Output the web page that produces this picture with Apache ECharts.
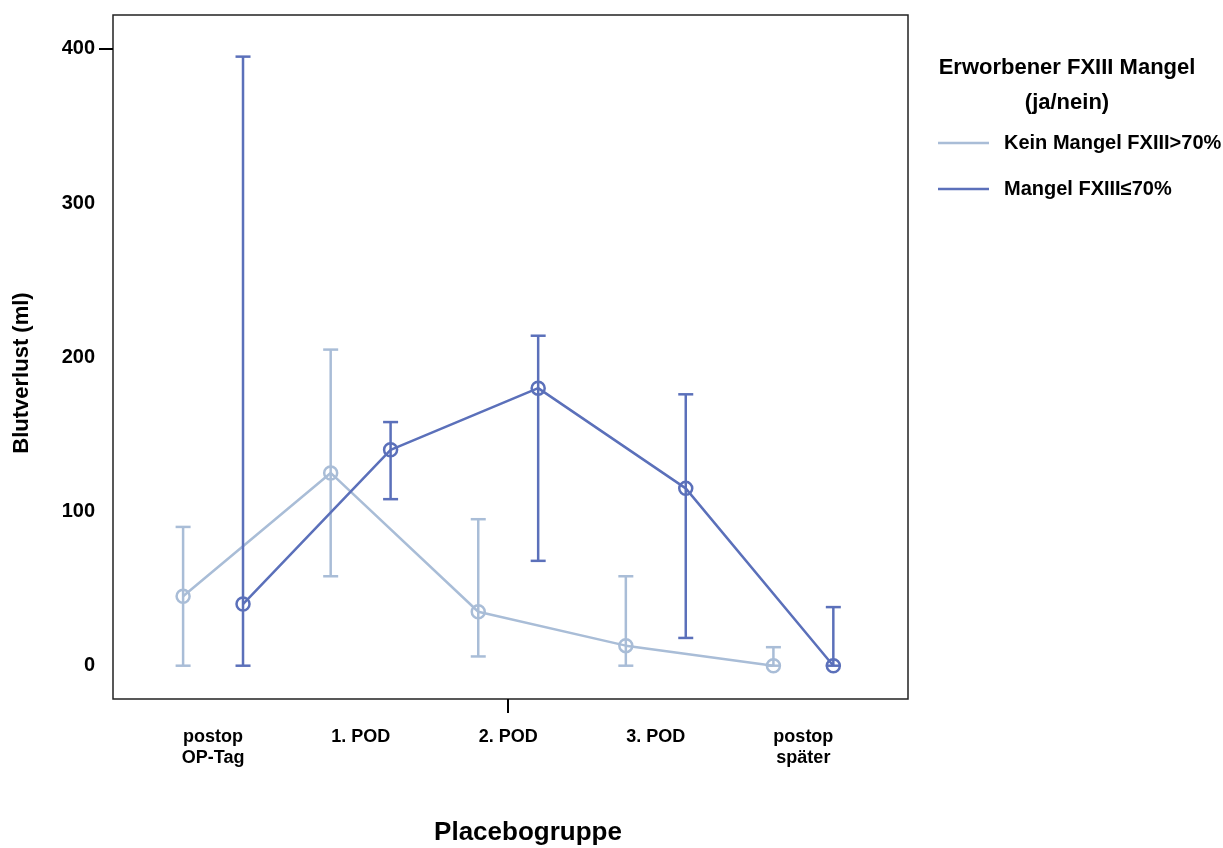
<!DOCTYPE html>
<html>
<head>
<meta charset="utf-8">
<script src="https://cdn.jsdelivr.net/npm/echarts@6/dist/echarts.min.js"></script>
<style>
  html, body { margin: 0; padding: 0; background: #fff; }
  #main { width: 1223px; height: 848px; }
</style>
</head>
<body>
<div id="main"></div>
<script>
var categories = ['postop\nOP-Tag', '1. POD', '2. POD', '3. POD', 'postop\nspäter'];
var yTicks = [0, 100, 200, 300, 400];

// Kein Mangel FXIII>70%
var keinMean = [45, 125, 35, 13, 0];
var keinLow = [0, 58, 6, 0, 0];
var keinHigh = [90, 205, 95, 58, 12];

// Mangel FXIII<=70%
var mangelMean = [40, 140, 180, 115, 0];
var mangelLow = [0, 108, 68, 18, 0];
var mangelHigh = [395, 158, 214, 176, 38];

var lightColor = '#a9bdd7';
var darkColor = '#5b70ba';
var font = 'Liberation Sans, Arial, sans-serif';
var shift = 0.203;

function points(means, off) {
  return means.map(function (v, i) { return [i + off, v]; });
}
function bars(low, high, off) {
  return low.map(function (v, i) { return [i + off, v, high[i]]; });
}

function errorBar(params, api) {
  var x = api.value(0);
  var top = api.coord([x, api.value(2)]);
  var bot = api.coord([x, api.value(1)]);
  var hw = 7.5;
  var style = { stroke: api.visual('color'), lineWidth: 2.5 };
  return {
    type: 'group',
    children: [
      { type: 'line', shape: { x1: top[0], y1: top[1], x2: bot[0], y2: bot[1] }, style: style },
      { type: 'line', shape: { x1: top[0] - hw, y1: top[1], x2: top[0] + hw, y2: top[1] }, style: style },
      { type: 'line', shape: { x1: bot[0] - hw, y1: bot[1], x2: bot[0] + hw, y2: bot[1] }, style: style }
    ]
  };
}

var chart = echarts.init(document.getElementById('main'));

var option = {
  animation: false,
  textStyle: { fontFamily: font },
  title: {
    text: 'Erworbener FXIII Mangel\n(ja/nein)',
    left: 1062,
    top: 45,
    textAlign: 'center',
    textStyle: { fontFamily: font, fontSize: 22, fontWeight: 'bold', color: '#000', lineHeight: 35 }
  },
  legend: {
    orient: 'vertical',
    left: 933,
    top: 128,
    itemWidth: 51,
    itemHeight: 2.5,
    itemGap: 26,
    textStyle: { fontFamily: font, fontSize: 20, fontWeight: 'bold', color: '#000', padding: [0, 0, 0, 10] },
    data: [
      { name: 'Kein Mangel FXIII>70%', icon: 'rect', itemStyle: { color: lightColor, borderWidth: 0 } },
      { name: 'Mangel FXIII≤70%', icon: 'rect', itemStyle: { color: darkColor, borderWidth: 0 } }
    ]
  },
  grid: {
    left: 113,
    top: 15,
    right: 315,
    bottom: 149,
    containLabel: false,
    outerBoundsMode: 'none',
    show: true,
    borderColor: '#222',
    borderWidth: 1.5,
    backgroundColor: 'transparent'
  },
  xAxis: {
    type: 'value',
    min: -0.678,
    max: 4.709,
    name: 'Placebogruppe',
    nameLocation: 'middle',
    nameGap: 121,
    nameTextStyle: { fontFamily: font, fontSize: 26, fontWeight: 'bold', color: '#000', padding: [0, 0, 0, 35] },
    axisLine: { show: false, onZero: false },
    splitLine: { show: false },
    axisTick: { show: true, customValues: [2], length: 14, lineStyle: { color: '#000', width: 2 } },
    axisLabel: {
      customValues: [0, 1, 2, 3, 4],
      formatter: function (v) { return categories[Math.round(v)]; },
      margin: 28,
      lineHeight: 21,
      fontFamily: font,
      fontSize: 18,
      fontWeight: 'bold',
      color: '#000'
    }
  },
  yAxis: {
    type: 'value',
    min: -21.6,
    max: 422,
    name: 'Blutverlust (ml)',
    nameLocation: 'middle',
    nameRotate: 90,
    nameGap: 80,
    nameTextStyle: { fontFamily: font, fontSize: 22, fontWeight: 'bold', color: '#000', padding: [0, 32, 0, 0] },
    axisLine: { show: false, onZero: false },
    splitLine: { show: false },
    axisTick: { show: true, customValues: [400], length: 14, lineStyle: { color: '#000', width: 2 } },
    axisLabel: {
      customValues: yTicks,
      margin: 18,
      padding: [4, 0, 0, 0],
      fontFamily: font,
      fontSize: 20,
      fontWeight: 'bold',
      color: '#000'
    }
  },
  series: [
    {
      name: 'Kein Mangel FXIII>70%',
      type: 'custom',
      renderItem: errorBar,
      itemStyle: { color: lightColor },
      encode: { x: 0, y: [1, 2] },
      data: bars(keinLow, keinHigh, -shift),
      z: 2
    },
    {
      name: 'Kein Mangel FXIII>70%',
      type: 'line',
      data: points(keinMean, -shift),
      symbol: 'circle',
      symbolSize: 13,
      lineStyle: { color: lightColor, width: 2.5 },
      itemStyle: { color: 'rgba(255,255,255,0)', borderColor: lightColor, borderWidth: 2.5 },
      z: 3
    },
    {
      name: 'Mangel FXIII≤70%',
      type: 'custom',
      renderItem: errorBar,
      itemStyle: { color: darkColor },
      encode: { x: 0, y: [1, 2] },
      data: bars(mangelLow, mangelHigh, shift),
      z: 4
    },
    {
      name: 'Mangel FXIII≤70%',
      type: 'line',
      data: points(mangelMean, shift),
      symbol: 'circle',
      symbolSize: 13,
      lineStyle: { color: darkColor, width: 2.5 },
      itemStyle: { color: 'rgba(255,255,255,0)', borderColor: darkColor, borderWidth: 2.5 },
      z: 5
    }
  ]
};

chart.setOption(option);
</script>
</body>
</html>
